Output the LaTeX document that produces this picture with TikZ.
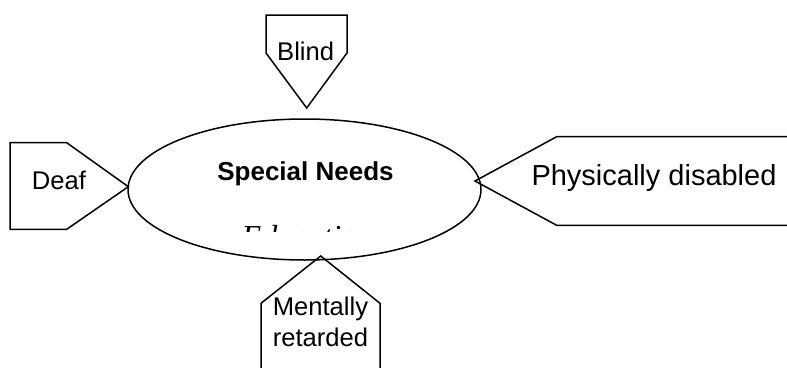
\documentclass[tikz,border=0pt]{standalone}
\usepackage{fontspec}
\setmainfont{Liberation Sans}
\newfontfamily\edufont{Liberation Serif}
\usetikzlibrary{shapes.geometric}
\begin{document}
\begin{tikzpicture}[x=1pt,y=-1pt,
  outline/.style={draw=black,line width=1.5pt,line join=miter},
  lbl/.style={font=\fontsize{25.6}{31.7}\selectfont,inner sep=0pt,anchor=base,align=center},
  biglbl/.style={font=\fontsize{29}{34}\selectfont,inner sep=0pt,anchor=base}]
\useasboundingbox (0,0) rectangle (787,367);
\clip (0,0) rectangle (787,367);

% central ellipse
\node[outline,ellipse,minimum width=353pt,minimum height=141pt,inner sep=0pt] (hub) at (304.5,189.5) {};
\node[font=\bfseries\fontsize{26}{30}\selectfont,inner sep=0pt,anchor=base] (title) at (305.5,180) {Special Needs};
\begin{scope}
  \clip (200,200) rectangle (420,231.7);
  \node[font=\edufont\itshape\fontsize{32}{36}\selectfont,inner sep=0pt,anchor=base west] (edu) at (241.5,247.5) {Education};
\end{scope}

% pointer boxes around the ellipse
\coordinate (blindtip) at (306.7,108);
\coordinate (deaftip) at (128.3,186.7);
\coordinate (phystip) at (475,181);
\coordinate (menttip) at (320.7,256);

\draw[outline] (266,15) -- (347,15) -- (347,53) -- (blindtip) -- (266,53) -- cycle;
\node[lbl] (blind) at (305.7,60) {Blind};

\draw[outline] (10,142.7) -- (66.7,142.7) -- (deaftip) -- (66.7,229.3) -- (10,229.3) -- cycle;
\node[lbl] (deaf) at (59,189.3) {Deaf};

\draw[outline] (800,136.7) -- (556.7,136.7) -- (phystip) -- (556.7,225.3) -- (800,225.3);
\node[biglbl] (phys) at (654,185) {Physically disabled};

\draw[outline] (261,380) -- (261,303.3) -- (menttip) -- (380,303.3) -- (380,380);
\node[lbl,anchor=base] (ment) at (320.5,346.7) {Mentally\\retarded};
\end{tikzpicture}
\end{document}
